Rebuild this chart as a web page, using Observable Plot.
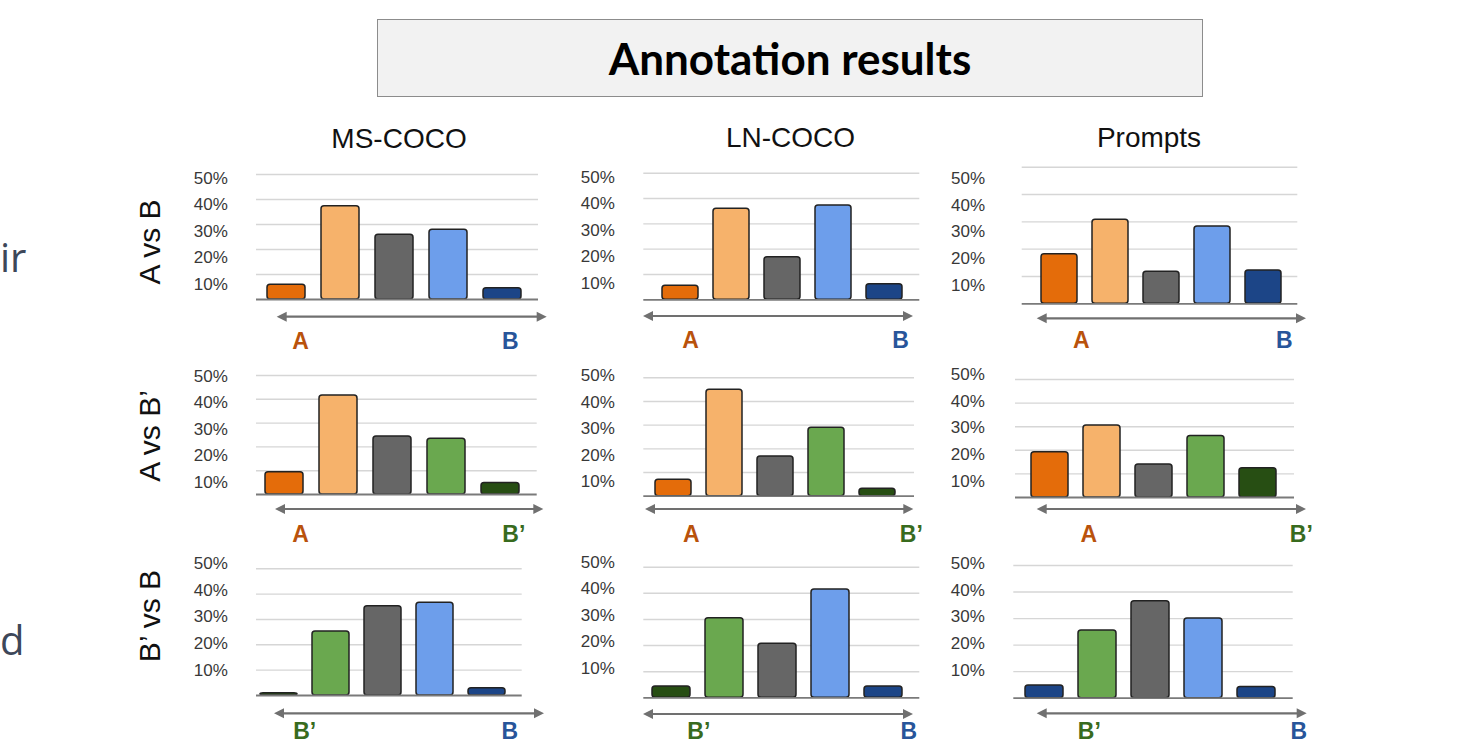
<!DOCTYPE html>
<html><head><meta charset="utf-8">
<script src="https://cdn.jsdelivr.net/npm/d3@7"></script>
<script src="https://cdn.jsdelivr.net/npm/@observablehq/plot@0.6"></script>
<style>
html,body{margin:0;padding:0;background:#fff;}
#root{position:relative;width:1462px;height:744px;overflow:hidden;background:#fff;font-family:"Liberation Sans",Arial,sans-serif;}
.title-box{position:absolute;left:377px;top:19px;width:826px;height:78px;box-sizing:border-box;background:#f2f2f2;border:1.5px solid #8c8c8c;display:flex;align-items:center;justify-content:center;font-family:Lato,"Open Sans",sans-serif;font-weight:700;font-size:44px;color:#000;}
.col-title{position:absolute;font-size:28px;line-height:28px;color:#111;white-space:nowrap;transform:translateX(-50%);}
.row-title{position:absolute;font-size:30px;line-height:30px;color:#111;white-space:nowrap;transform:translate(-50%,-50%) rotate(-90deg);}
.frag{position:absolute;left:0;font-family:"Open Sans",sans-serif;font-size:40px;line-height:40px;color:#3d4759;white-space:nowrap;}
</style></head>
<body><div id="root"></div>
<script>
// ---------- data ----------
const title = "Annotation results";
const columns = ["MS-COCO", "LN-COCO", "Prompts"];
const rowLabels = ["A vs B", "A vs B’", "B’ vs B"];
const bins = ["strong left", "left", "equal", "right", "strong right"];
const yTicks = [10, 20, 30, 40, 50];
const endLabels = [["A", "B"], ["A", "B’"], ["B’", "B"]];
const sideFragments = ["ir", "d"];

// values in percent, per row (comparison) and column (dataset)
const msCocoAvsB   = [5.9, 37.3, 25.9, 27.9, 4.5];
const lnCocoAvsB   = [5.5, 36.0, 16.8, 37.2, 6.1];
const promptsAvsB  = [18.1, 30.8, 11.7, 28.3, 12.2];
const msCocoAvsBp  = [9.4, 41.6, 24.4, 23.4, 4.8];
const lnCocoAvsBp  = [6.9, 45.0, 16.8, 28.9, 3.1];
const promptsAvsBp = [19.2, 30.5, 14.0, 26.1, 12.4];
const msCocoBpvsB  = [0.9, 25.3, 35.2, 36.6, 2.9];
const lnCocoBpvsB  = [4.3, 30.5, 20.7, 41.5, 4.3];
const promptsBpvsB = [4.8, 25.5, 36.5, 30.0, 4.2];
const series = [
  [msCocoAvsB, lnCocoAvsB, promptsAvsB],
  [msCocoAvsBp, lnCocoAvsBp, promptsAvsBp],
  [msCocoBpvsB, lnCocoBpvsB, promptsBpvsB]
];

// ---------- styles ----------
const palette = {A: "#e46c0a", a: "#f6b26b", tie: "#666666", b: "#6d9eeb", B: "#1c4587", bp: "#6aa84f", BP: "#274e13"};
const rowColorKeys = [
  ["A", "a", "tie", "b", "B"],
  ["A", "a", "tie", "bp", "BP"],
  ["BP", "bp", "tie", "b", "B"]
];
const colorKeysFor = (r, c) => (r === 2 && c === 2) ? ["B", "bp", "tie", "b", "B"] : rowColorKeys[r];
const labelColor = {"A": "#b9520c", "B": "#28559a", "B’": "#386b1e"};

// ---------- layout (page pixels) ----------
const layout = [
  [
    {gx:[256,538], y50:174, base:299, c:[285,503.8], ax:[276.7,546.7], ay:316.7, lx:[300,509.7], ly:348.3, tr:227.3, t50:177.7},
    {gx:[643.3,919.3], y50:172.7, base:299.3, c:[678.7,886.2], ax:[643,913], ay:316, lx:[690,900], ly:347.7, tr:614.3, t50:176.7},
    {gx:[1021.7,1297.3], y50:166.7, base:303.3, c:[1057.7,1263.7], ax:[1036.7,1306], ay:318.3, lx:[1080.8,1283.8], ly:347.3, tr:984.5, t50:178.3}
  ],
  [
    {gx:[256,536.7], y50:375, base:494, c:[283,500.5], ax:[275,543.3], ay:509, lx:[300,513.3], ly:541.7, tr:227.3, t50:375.7},
    {gx:[643.3,914], y50:377.3, base:495.7, c:[672,878.3], ax:[645,913.3], ay:509, lx:[690.8,910.8], ly:541.7, tr:614.3, t50:375},
    {gx:[1015,1294], y50:379, base:497, c:[1048.7,1258], ax:[1036.7,1306], ay:509, lx:[1088.3,1300.8], ly:541.7, tr:984.3, t50:374.3}
  ],
  [
    {gx:[256,521.7], y50:568.3, base:695, c:[277.2,488.7], ax:[274,544], ay:713.3, lx:[304.2,509.3], ly:738.5, tr:227.3, t50:563.3},
    {gx:[643.3,919.3], y50:566.7, base:697.3, c:[670.7,882.7], ax:[643,913], ay:714, lx:[698.3,908.3], ly:738.5, tr:614.3, t50:561.7},
    {gx:[1013.3,1292.7], y50:565, base:697.7, c:[1043.2,1256.5], ax:[1036.7,1306.7], ay:713.3, lx:[1088.8,1298.3], ly:738.5, tr:984.3, t50:563.3}
  ]
];
const W = 1462, H = 744, labelStep = 26.6;
const colTitlePos = [[399, 124.5], [790.5, 123.6], [1149, 123.6]];
const rowTitlePos = [[150, 241.5], [149.5, 436], [149.5, 616]];
const fragPos = [[0, 237.2], [0, 619.5]];

const root = document.getElementById("root");

// title box
const tb = document.createElement("div");
tb.className = "title-box"; tb.textContent = title; root.appendChild(tb);

// side fragments
sideFragments.forEach((t, i) => {
  const d = document.createElement("div");
  d.className = "frag"; d.textContent = t;
  d.style.left = fragPos[i][0] + "px"; d.style.top = fragPos[i][1] + "px";
  root.appendChild(d);
});

// column titles
columns.forEach((t, i) => {
  const d = document.createElement("div");
  d.className = "col-title"; d.textContent = t;
  d.style.left = colTitlePos[i][0] + "px"; d.style.top = colTitlePos[i][1] + "px";
  root.appendChild(d);
});
// row titles
rowLabels.forEach((t, i) => {
  const d = document.createElement("div");
  d.className = "row-title"; d.textContent = t;
  d.style.left = rowTitlePos[i][0] + "px"; d.style.top = rowTitlePos[i][1] + "px";
  root.appendChild(d);
});

function arrowMark(L) {
  return () => {
    const g = d3.create("svg:g");
    const [x0, x1] = L.ax, y = L.ay, h = 10, w = 5, col = "#707070";
    g.append("line").attr("x1", x0 + h - 1).attr("x2", x1 - h + 1).attr("y1", y).attr("y2", y)
      .attr("stroke", col).attr("stroke-width", 2.2);
    g.append("path").attr("d", `M${x0},${y}L${x0 + h},${y - w}L${x0 + h},${y + w}Z`).attr("fill", col);
    g.append("path").attr("d", `M${x1},${y}L${x1 - h},${y - w}L${x1 - h},${y + w}Z`).attr("fill", col);
    return g.node();
  };
}

for (let r = 0; r < 3; r++) {
  for (let c = 0; c < 3; c++) {
    const L = layout[r][c];
    const vals = series[r][c];
    const keys = colorKeysFor(r, c);
    const data = bins.map((b, i) => ({bin: b, value: vals[i], color: palette[keys[i]]}));
    const step = (L.c[1] - L.c[0]) / 4;
    const tickMarks = yTicks.map(v => {
      const gridY = L.base - (L.base - L.y50) * v / 50;
      const labY = L.t50 + (50 - v) / 10 * labelStep;
      return Plot.text([v], {
        y: d => d, text: d => d + "%", frameAnchor: "left", textAnchor: "end",
        dx: L.tr - L.gx[0], dy: labY - gridY, fontSize: 17, fill: "#383838"
      });
    });
    const [la, lb] = endLabels[r];
    const plot = Plot.plot({
      width: W, height: H,
      marginLeft: L.gx[0], marginRight: W - L.gx[1],
      marginTop: L.y50, marginBottom: H - L.base,
      style: "position:absolute;left:0;top:0;background:transparent;overflow:visible;font-family:'Liberation Sans',Arial,sans-serif;",
      x: {type: "band", domain: bins, range: [L.c[0] - step / 2, L.c[1] + step / 2], paddingInner: 0.29, paddingOuter: 0.145, axis: null},
      y: {domain: [0, 50], axis: null},
      marks: [
        Plot.ruleY(yTicks, {stroke: "#d6d6d6", strokeWidth: 1.4}),
        Plot.barY(data, {x: "bin", y: "value", fill: "color", stroke: "#222", strokeWidth: 1.5, rx: 3}),
        Plot.ruleY([0], {stroke: "#7a7a7a", strokeWidth: 1.8}),
        ...tickMarks,
        arrowMark(L),
        Plot.text([la], {text: d => d, frameAnchor: "bottom-left", dx: L.lx[0] - L.gx[0], dy: L.ly - L.base,
          lineAnchor: "bottom", textAnchor: "middle", fontSize: 23, fontWeight: "bold", fill: labelColor[la]}),
        Plot.text([lb], {text: d => d, frameAnchor: "bottom-left", dx: L.lx[1] - L.gx[0], dy: L.ly - L.base,
          lineAnchor: "bottom", textAnchor: "middle", fontSize: 23, fontWeight: "bold", fill: labelColor[lb]})
      ]
    });
    root.appendChild(plot);
  }
}
</script>
</body></html>
